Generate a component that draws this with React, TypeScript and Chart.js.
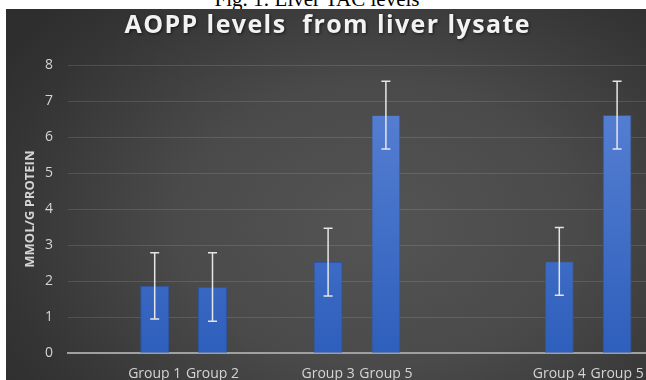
import React, { useEffect, useRef } from "react";
import { Chart, registerables } from "chart.js";

Chart.register(...registerables);

const titleText = "AOPP levels  from liver lysate";
const categories = ["", "Group 1", "Group 2", "", "Group 3", "Group 5", "", "", "Group 4", "Group 5"];
const means: (number | null)[] = [null, 1.87, 1.84, null, 2.53, 6.61, null, null, 2.55, 6.61];
const errors: (number | null)[] = [null, 0.92, 0.95, null, 0.94, 0.94, null, null, 0.94, 0.94];
const yTicks = [0, 1, 2, 3, 4, 5, 6, 7, 8];

const errorBarPlugin = {
  id: "errorBars",
  afterDatasetsDraw(chart: any) {
    const ctx = chart.ctx;
    const meta = chart.getDatasetMeta(0);
    const y = chart.scales.y;
    ctx.save();
    ctx.strokeStyle = "#e6e6e6";
    ctx.lineWidth = 1.5;
    meta.data.forEach((bar: any, i: number) => {
      const m = means[i];
      const e = errors[i];
      if (m == null || e == null) return;
      const x = bar.x;
      const top = y.getPixelForValue(m + e);
      const bot = y.getPixelForValue(m - e);
      ctx.beginPath();
      ctx.moveTo(x, top);
      ctx.lineTo(x, bot);
      ctx.moveTo(x - 4.5, top);
      ctx.lineTo(x + 4.5, top);
      ctx.moveTo(x - 4.5, bot);
      ctx.lineTo(x + 4.5, bot);
      ctx.stroke();
    });
    ctx.restore();
  },
};

const titlePlugin = {
  id: "spacedTitle",
  afterDraw(chart: any) {
    const ctx = chart.ctx;
    ctx.save();
    ctx.font = 'bold 25px "Open Sans"';
    ctx.fillStyle = "#f2f2f2";
    ctx.textAlign = "left";
    ctx.textBaseline = "alphabetic";
    const w0 = ctx.measureText(titleText).width;
    const spacing = Math.max(0, (405 - w0) / (titleText.length - 1));
    (ctx as any).letterSpacing = spacing.toFixed(2) + "px";
    const x0 = 321 - 405 / 2;
    ctx.shadowColor = "rgba(0,0,0,0.6)";
    ctx.shadowBlur = 3;
    ctx.shadowOffsetX = 1;
    ctx.shadowOffsetY = 1;
    ctx.fillText(titleText, x0, 24);
    ctx.restore();
  },
};

export default function App() {
  const ref = useRef<HTMLCanvasElement>(null);
  useEffect(() => {
    if (!ref.current) return;
    const chart = new Chart(ref.current, {
      type: "bar",
      data: {
        labels: categories,
        datasets: [
          {
            data: means as any,
            backgroundColor: (c: any) => {
              const area = c.chart.chartArea;
              if (!area) return "#4472c4";
              const g = c.chart.ctx.createLinearGradient(0, area.top, 0, area.bottom);
              g.addColorStop(0, "#5c84d6");
              g.addColorStop(1, "#2e5fbc");
              return g;
            },
            borderColor: "#2d56a8",
            borderWidth: 1,
            barPercentage: 0.5,
            categoryPercentage: 1,
          },
        ],
      },
      options: {
        animation: false,
        responsive: false,
        maintainAspectRatio: false,
        layout: { padding: { left: 16, right: 0, top: 56, bottom: 7 } },
        plugins: {
          legend: { display: false },
          tooltip: { enabled: false },
          title: { display: false },
        },
        scales: {
          x: {
            grid: { display: false, drawTicks: false },
            border: { display: true, color: "#a0a0a0", width: 2 },
            afterFit: (s: any) => {
              s.paddingLeft = 0;
              s.paddingRight = 0;
            },
            ticks: {
              color: "#d4d4d4",
              font: { family: "Open Sans", size: 14 },
              padding: 12,
              maxRotation: 0,
              autoSkip: false,
            },
          },
          y: {
            min: 0,
            max: 8,
            afterBuildTicks: (s: any) => {
              s.ticks = yTicks.map((v) => ({ value: v }));
            },
            afterFit: (s: any) => {
              s.width = 46;
            },
            grid: {
              color: "rgba(255,255,255,0.12)",
              lineWidth: 1,
              drawTicks: false,
            },
            border: { display: false },
            ticks: {
              color: "#d4d4d4",
              font: { family: "Open Sans", size: 14 },
              padding: 15,
            },
            title: {
              display: true,
              text: "MMOL/G PROTEIN",
              color: "#d4d4d4",
              font: { family: "Open Sans", size: 13, weight: "bold" },
              padding: { top: 0, bottom: 0 },
            },
          },
        },
      },
      plugins: [errorBarPlugin, titlePlugin],
    });
    return () => chart.destroy();
  }, []);

  return (
    <div
      style={{
        position: "fixed",
        left: 0,
        top: 0,
        width: 646,
        height: 380,
        overflow: "hidden",
        background: "#ffffff",
      }}
    >
      <div
        style={{
          position: "absolute",
          left: 0,
          width: 634,
          top: -11,
          textAlign: "center",
          fontFamily: "'Liberation Serif', serif",
          fontSize: 21,
          lineHeight: "20px",
          color: "#000",
        }}
      >
        Fig. 1: Liver TAC levels
      </div>
      <div
        style={{
          position: "absolute",
          left: 6,
          top: 9,
          width: 640,
          height: 392,
          background:
            "radial-gradient(ellipse 70% 80% at 58% 55%, #545454 0%, #4a4a4a 45%, #343434 85%, #2e2e2e 100%)",
        }}
      >
        <canvas ref={ref} width={640} height={392} style={{ display: "block" }} />
      </div>
    </div>
  );
}
